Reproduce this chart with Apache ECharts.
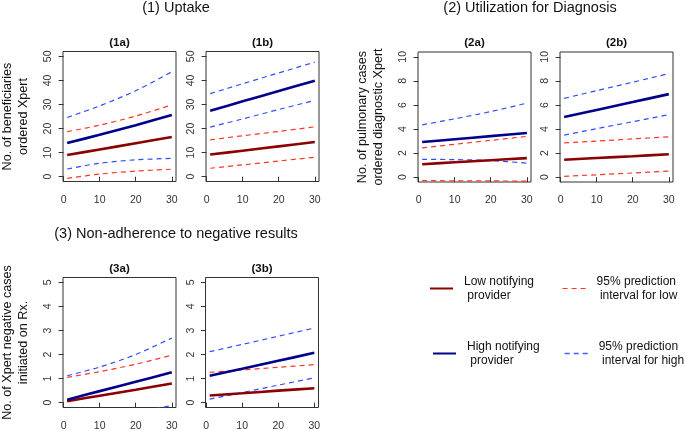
<!DOCTYPE html>
<html>
<head>
<meta charset="utf-8">
<script src="https://cdn.jsdelivr.net/npm/echarts@6/dist/echarts.min.js"></script>
<style>
  html, body { margin: 0; padding: 0; background: #fff; }
  #chart { width: 685px; height: 431px; }
</style>
</head>
<body>
<div id="chart"></div>
<script>
const months = [1, 10, 20, 30]
const xTicks = [0, 10, 20, 30]
const yTicksUptake = [0, 10, 20, 30, 40, 50]
const yTicksDiag = [0, 2, 4, 6, 8, 10]
const yTicksNeg = [0, 1, 2, 3, 4, 5]

// (1a)
const low1a = [9.0, 11.3, 13.9, 16.5]
const lowLo1a = [-0.7, 1.1, 2.3, 3.1]
const lowHi1a = [18.7, 21.4, 25.2, 29.8]
const high1a = [14.0, 17.4, 21.4, 25.6]
const highLo1a = [3.2, 5.6, 7.0, 7.6]
const highHi1a = [24.6, 29.4, 35.7, 43.6]
// (1b)
const low1b = [9.2, 10.8, 12.6, 14.4]
const lowLo1b = [3.5, 4.9, 6.5, 8.1]
const lowHi1b = [15.3, 17.0, 18.8, 20.7]
const high1b = [27.4, 31.3, 35.6, 39.9]
const highLo1b = [20.6, 24.0, 27.9, 31.7]
const highHi1b = [34.5, 38.6, 43.1, 47.6]
// (2a)
const low2a = [1.08, 1.24, 1.41, 1.58]
const lowLo2a = [-0.28, -0.3, -0.31, -0.33]
const lowHi2a = [2.44, 2.73, 3.06, 3.39]
const high2a = [2.92, 3.15, 3.41, 3.67]
const highLo2a = [1.48, 1.46, 1.38, 1.17]
const highHi2a = [4.35, 4.85, 5.45, 6.15]
// (2b)
const low2b = [1.45, 1.59, 1.74, 1.9]
const lowLo2b = [0.07, 0.2, 0.35, 0.5]
const lowHi2b = [2.85, 3.0, 3.18, 3.35]
const high2b = [5.0, 5.59, 6.24, 6.9]
const highLo2b = [3.5, 4.03, 4.61, 5.2]
const highHi2b = [6.55, 7.19, 7.89, 8.6]
// (3a)
const low3a = [0.06, 0.29, 0.54, 0.8]
const lowHi3a = [1.05, 1.29, 1.6, 1.97]
const high3a = [0.12, 0.48, 0.87, 1.26]
const highLo3a = [-1.1, -0.75, -0.42, -0.12]
const highHi3a = [1.12, 1.48, 2.0, 2.69]
// (3b)
const low3b = [0.3, 0.39, 0.5, 0.6]
const lowHi3b = [1.26, 1.36, 1.47, 1.58]
const high3b = [1.12, 1.41, 1.74, 2.07]
const highLo3b = [0.15, 0.42, 0.73, 1.03]
const highHi3b = [2.12, 2.42, 2.76, 3.1]

const NAME_LOW = 'Low notifying\n provider'
const NAME_HIGH = 'High notifying\n provider'
const NAME_PI_LOW = '95% prediction\n interval for low'
const NAME_PI_HIGH = '95% prediction\n interval for high'

const FONT = '"Liberation Sans", Arial, sans-serif'
const DARK_RED = '#8B0000'
const DARK_BLUE = '#00008B'
const RED = '#ff3526'
const BLUE = '#2f4dff'

const panels = [
  { tag: '(1a)', left: 63, top: 51.5, yMin: -2, yMax: 52, yTicks: yTicksUptake,
    yName: 'No. of beneficiaries\nordered Xpert',
    lines: { lowLo: lowLo1a, lowHi: lowHi1a, highLo: highLo1a, highHi: highHi1a, low: low1a, high: high1a } },
  { tag: '(1b)', left: 206, top: 51.5, yMin: -2, yMax: 52, yTicks: yTicksUptake,
    lines: { lowLo: lowLo1b, lowHi: lowHi1b, highLo: highLo1b, highHi: highHi1b, low: low1b, high: high1b } },
  { tag: '(2a)', left: 418, top: 52, yMin: -0.4, yMax: 10.4, yTicks: yTicksDiag,
    yName: 'No. of pulmonary cases\nordered diagnostic Xpert',
    lines: { lowLo: lowLo2a, lowHi: lowHi2a, highLo: highLo2a, highHi: highHi2a, low: low2a, high: high2a } },
  { tag: '(2b)', left: 560, top: 52, yMin: -0.4, yMax: 10.4, yTicks: yTicksDiag,
    lines: { lowLo: lowLo2b, lowHi: lowHi2b, highLo: highLo2b, highHi: highHi2b, low: low2b, high: high2b } },
  { tag: '(3a)', left: 63, top: 277.5, yMin: -0.2, yMax: 5.2, yTicks: yTicksNeg,
    yName: 'No. of Xpert negative cases\ninitiated on Rx.',
    lines: { lowHi: lowHi3a, highLo: highLo3a, highHi: highHi3a, low: low3a, high: high3a } },
  { tag: '(3b)', left: 205.5, top: 277.5, yMin: -0.2, yMax: 5.2, yTicks: yTicksNeg,
    lines: { lowHi: lowHi3b, highLo: highLo3b, highHi: highHi3b, low: low3b, high: high3b } }
]

const PANEL_W = 113
const PANEL_H = 130

const lineKinds = {
  lowLo:  { name: NAME_PI_LOW,  color: RED,       width: 1.2, dashed: true },
  lowHi:  { name: NAME_PI_LOW,  color: RED,       width: 1.2, dashed: true },
  highLo: { name: NAME_PI_HIGH, color: BLUE,      width: 1.2, dashed: true },
  highHi: { name: NAME_PI_HIGH, color: BLUE,      width: 1.2, dashed: true },
  low:    { name: NAME_LOW,     color: DARK_RED,  width: 2.6, dashed: false },
  high:   { name: NAME_HIGH,    color: DARK_BLUE, width: 2.6, dashed: false }
}

const grid = []
const xAxis = []
const yAxis = []
const series = []
const graphic = []

const tickStyle = { color: '#333', width: 1 }
const labelStyle = { color: '#333', fontSize: 10.5, fontFamily: FONT }

panels.forEach((p, i) => {
  grid.push({
    left: p.left, top: p.top, width: PANEL_W, height: PANEL_H,
    show: true, borderColor: '#333', borderWidth: 1,
    containLabel: false, outerBoundsMode: 'none'
  })
  xAxis.push({
    gridIndex: i, type: 'value', min: -0.16, max: 31.16,
    axisLine: { show: false }, splitLine: { show: false },
    axisTick: { show: true, length: 5, customValues: xTicks, lineStyle: tickStyle },
    axisLabel: { customValues: xTicks, margin: 13, ...labelStyle }
  })
  yAxis.push({
    gridIndex: i, type: 'value', min: p.yMin, max: p.yMax,
    axisLine: { show: false }, splitLine: { show: false },
    axisTick: { show: true, length: 5, customValues: p.yTicks, lineStyle: tickStyle },
    axisLabel: { customValues: p.yTicks, rotate: 90, margin: 9, ...labelStyle },
    name: p.yName || '', nameLocation: 'middle', nameGap: 31, nameRotate: 90,
    nameTextStyle: { color: '#111', fontSize: 12.6, lineHeight: 16, fontFamily: FONT, align: 'center' }
  })
  Object.keys(p.lines).forEach(k => {
    const kind = lineKinds[k]
    series.push({
      type: 'line', name: kind.name, xAxisIndex: i, yAxisIndex: i,
      data: months.map((m, j) => [m, p.lines[k][j]]),
      symbol: 'none', smooth: 0.3, silent: true, clip: true,
      z: kind.dashed ? 2 : 3,
      lineStyle: { color: kind.color, width: kind.width, type: kind.dashed ? [5, 4] : 'solid' },
      itemStyle: { color: kind.color }
    })
  })
  graphic.push({
    type: 'text',
    style: {
      text: p.tag, x: p.left + PANEL_W / 2, y: p.top - 9,
      textAlign: 'center', textVerticalAlign: 'middle',
      font: 'bold 11.5px ' + FONT, fill: '#111'
    }
  })
})

const sectionTitles = [
  { text: '(1) Uptake', x: 176, y: 8 },
  { text: '(2) Utilization for Diagnosis', x: 530, y: 8 },
  { text: '(3) Non-adherence to negative results', x: 176, y: 233.5 }
]
sectionTitles.forEach(t => {
  graphic.push({
    type: 'text',
    style: {
      text: t.text, x: t.x, y: t.y, textAlign: 'center', textVerticalAlign: 'middle',
      font: '14.5px ' + FONT, fill: '#111'
    }
  })
})

const legendBase = {
  orient: 'horizontal', padding: 0, itemWidth: 23, itemHeight: 14,
  selectedMode: false,
  itemStyle: { color: 'rgba(0,0,0,0)', borderColor: 'rgba(0,0,0,0)', borderWidth: 0, opacity: 0 },
  textStyle: { color: '#111', fontSize: 12, lineHeight: 14, fontFamily: FONT, padding: [0, 0, 0, 6] }
}

const chart = echarts.init(document.getElementById('chart'))
chart.setOption({
  animation: false,
  backgroundColor: '#fff',
  grid, xAxis, yAxis, series, graphic,
  legend: [
    { ...legendBase, data: [NAME_LOW], left: 429, top: 274.5,
      lineStyle: { color: DARK_RED, width: 2, type: 'solid' } },
    { ...legendBase, data: [NAME_PI_LOW], left: 562, top: 274.5,
      lineStyle: { color: RED, width: 1.2, type: [5, 4] } },
    { ...legendBase, data: [NAME_HIGH], left: 432, top: 339.5,
      lineStyle: { color: DARK_BLUE, width: 2, type: 'solid' } },
    { ...legendBase, data: [NAME_PI_HIGH], left: 564, top: 339.5,
      lineStyle: { color: '#3f5fff', width: 1.4, type: [5, 4] } }
  ]
})
</script>
</body>
</html>
